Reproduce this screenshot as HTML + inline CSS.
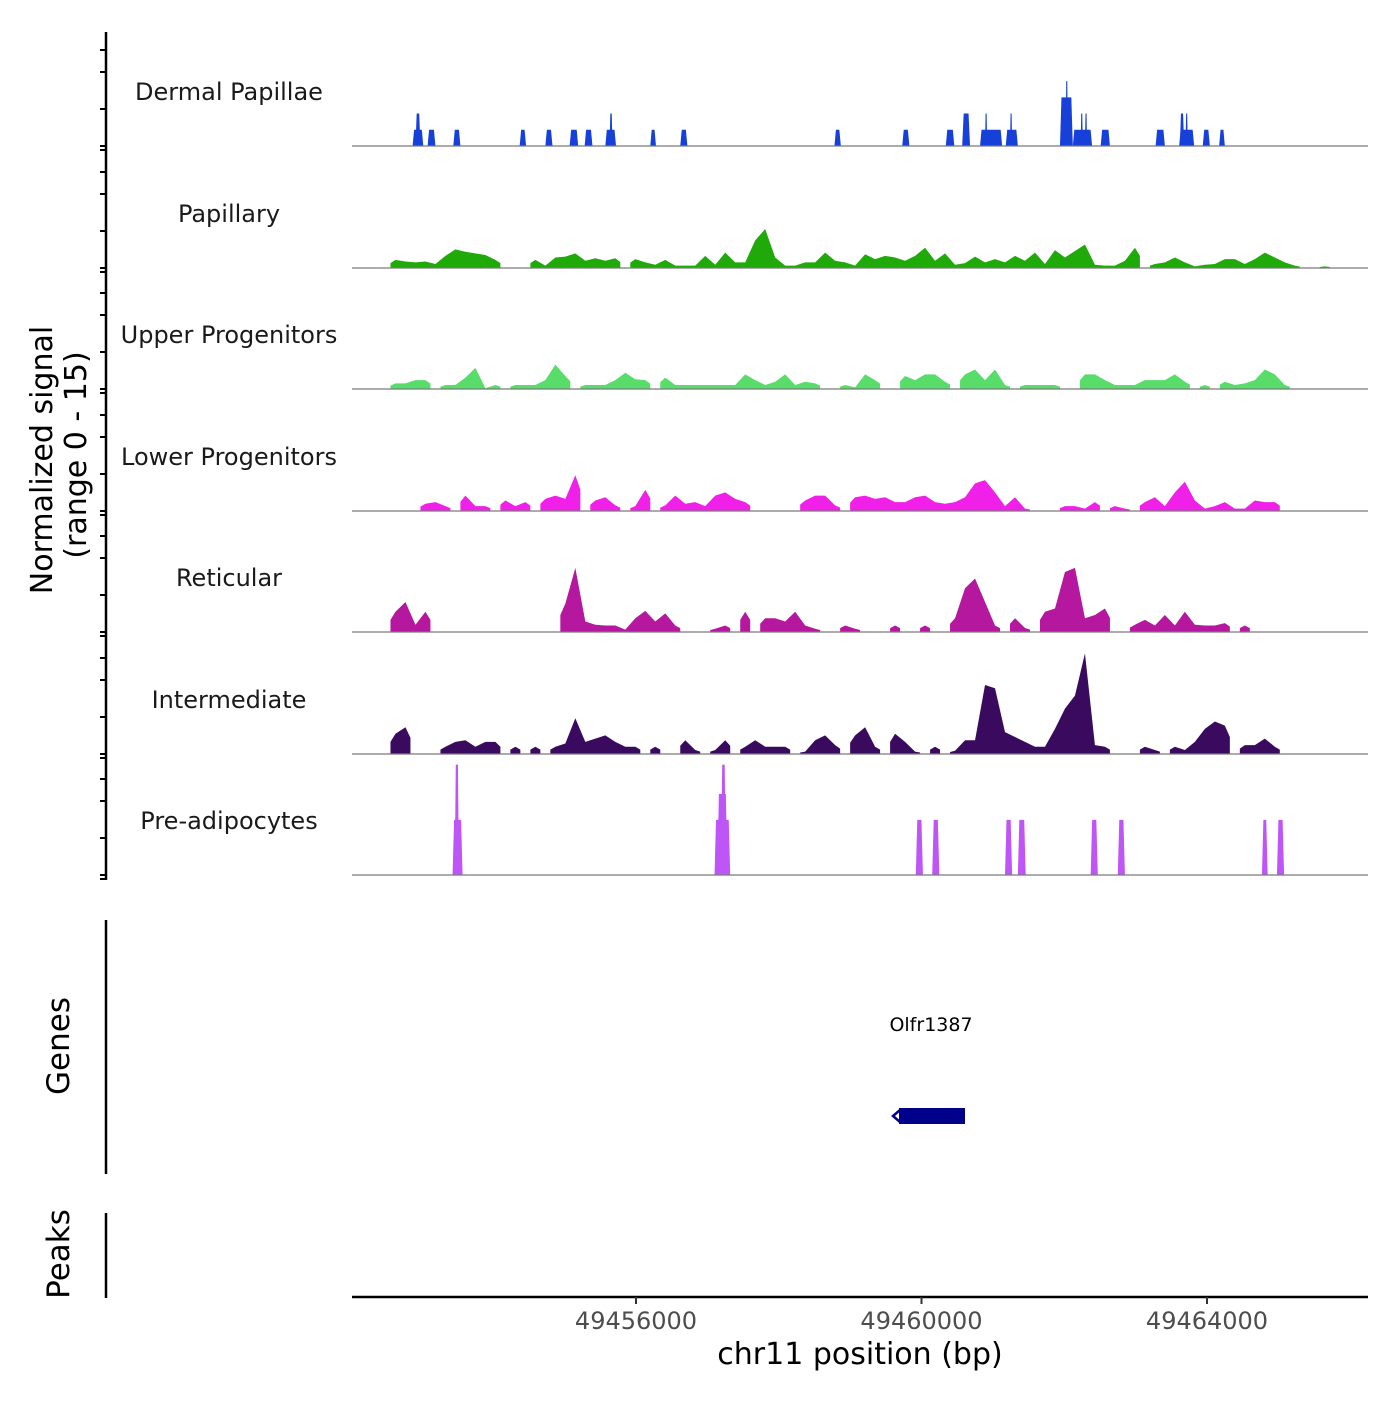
<!DOCTYPE html>
<html><head><meta charset="utf-8">
<style>
html,body{margin:0;padding:0;background:#fff;}
svg text{font-family:"DejaVu Sans","Liberation Sans",sans-serif;}
</style></head>
<body>
<svg id="chart" width="1400" height="1400" viewBox="0 0 1400 1400" xmlns="http://www.w3.org/2000/svg">
  <g id="axes"></g>
  <g id="tracks"></g>
  <text transform="translate(52,460) rotate(-90)" text-anchor="middle" font-size="30">Normalized signal</text>
  <text transform="translate(86,455) rotate(-90)" text-anchor="middle" font-size="30">(range 0 - 15)</text>
  <text transform="translate(69,1046) rotate(-90)" text-anchor="middle" font-size="31">Genes</text>
  <text transform="translate(69,1254) rotate(-90)" text-anchor="middle" font-size="31">Peaks</text>
  <line x1="106" y1="920" x2="106" y2="1174" stroke="#000" stroke-width="2.5"/>
  <line x1="106" y1="1213" x2="106" y2="1298" stroke="#000" stroke-width="2.5"/>
  <g>
    <text x="931" y="1031" text-anchor="middle" font-size="19">Olfr1387</text>
    <rect x="899" y="1108" width="66" height="16" fill="#00008B"/>
    <path d="M900 1110 L893 1116 L900 1122" stroke="#00008B" stroke-width="2.5" fill="none"/>
  </g>
  <text x="860" y="1364" text-anchor="middle" font-size="30">chr11 position (bp)</text>
</svg>
<script>
// positions in kb offset from chr11:49452000; heights in normalized signal (0-15)
const trackNames = ["Dermal Papillae","Papillary","Upper Progenitors","Lower Progenitors","Reticular","Intermediate","Pre-adipocytes"];
const trackColors = ["#1740D9","#20AA0A","#58DC6A","#F020E8","#B5179E","#3A0A5F","#BE55F6"];
const binSizeKb = 0.14;
// block tracks: [startKb, endKb, value]
const dermalBlocks = [[0.87,1.02,2],[0.91,0.98,4],[1.08,1.19,2],[1.44,1.54,2],[2.37,2.46,2],[2.73,2.83,2],[3.07,3.19,2],[3.28,3.39,2],[3.57,3.72,2],[3.63,3.67,4],[4.20,4.28,2],[4.62,4.72,2],[6.78,6.87,2],[7.73,7.83,2],[8.34,8.46,2],[8.57,8.68,4],[8.82,9.13,2],[8.89,8.92,4],[9.18,9.35,2],[9.24,9.27,4],[9.94,10.12,6],[10.02,10.05,8],[10.12,10.39,2],[10.23,10.26,4],[10.29,10.32,4],[10.51,10.64,2],[11.28,11.41,2],[11.61,11.82,2],[11.62,11.68,4],[11.70,11.73,4],[11.94,12.04,2],[12.17,12.25,2]];
const preadipoBlocks = [[1.43,1.57,6.8],[1.46,1.52,13.6],[5.10,5.32,6.8],[5.14,5.28,10],[5.19,5.26,13.6],[7.92,8.02,6.8],[8.15,8.25,6.8],[9.17,9.27,6.8],[9.35,9.46,6.8],[10.37,10.47,6.8],[10.75,10.85,6.8],[12.77,12.85,6.8],[12.98,13.08,6.8]];
// binned tracks (bin width 0.14 kb starting at 0)
const papillaryBins = [0,0,0,0,1.0,0.8,0.7,0.8,0.5,1.5,2.3,2.0,1.8,1.6,1.0,0,0,0,1.0,0.3,1.3,1.4,1.8,0.9,1.2,0.9,1.2,0,1.1,0.7,0.4,1.0,0.3,0.3,0.3,1.5,0.4,1.9,0.7,0.7,3.4,4.8,1.3,0.3,0.3,0.7,0.7,1.9,0.9,0.7,0.3,1.7,1.1,1.5,1.3,0.9,1.5,2.5,0.9,1.8,0.4,0.6,1.4,0.7,1.1,0.7,1.5,0.9,1.9,0.5,2.2,1.3,2.1,2.9,0.4,0.3,0.3,0.9,2.5,0,0.5,0.7,1.3,0.7,0.2,0.4,0.5,1.1,1.1,0.5,1.1,1.9,1.3,0.7,0.3,0,0,0.2,0,0,0,0];
const upperBins = [0,0,0,0,0.7,0.7,1.1,1.1,0,0.5,0.5,1.4,2.6,0.1,0.5,0,0.5,0.5,0.5,1.1,3.0,1.6,0,0.5,0.5,0.5,1.1,2.0,1.2,1.1,0,1.4,0.5,0.5,0.5,0.5,0.5,0.5,0.5,1.8,1.1,0.5,0.9,1.8,0.5,0.9,0.7,0,0,0.5,0.2,1.8,1.1,0,0,1.6,1.1,1.8,1.8,0.9,0,1.8,2.4,1.1,2.4,0.5,0,0.5,0.5,0.5,0.5,0,0,1.8,1.8,1.1,0.5,0.5,0.5,1.1,1.1,1.1,1.8,0.9,0,0.5,0,0.9,0.5,0.7,1.1,2.4,1.8,0.5,0,0,0,0,0,0,0,0];
const lowerBins = [0,0,0,0,0,0,0,0.9,1.1,0.6,0,1.9,0.6,0.6,0,1.3,0.6,1.1,0,1.5,1.9,1.5,4.4,0,1.3,1.7,0.7,0,0.6,2.6,0,0.7,1.9,0.9,1.1,0.6,1.9,2.3,1.5,1.1,0,0,0,0,0,1.3,1.9,1.9,0.7,0,1.7,1.9,1.5,1.7,1.1,1.1,1.7,1.9,1.1,0.9,1.1,1.7,3.4,3.8,2.3,0.6,1.7,0.3,0,0,0,0.6,0.6,0.3,1.1,0,0.6,0.3,0,1.1,1.7,0.6,2.3,3.6,1.3,0.3,0.6,1.1,0.3,0.3,1.3,1.1,1.1,0,0,0,0,0,0,0,0,0];
const reticularBins = [0,0,0,0,2.5,3.7,0.9,2.5,0,0,0,0,0,0,0,0,0,0,0,0,0,3.5,7.9,1.3,0.9,0.8,0.8,0.3,1.7,2.6,1.3,2.3,0.8,0,0,0,0.4,0.8,0,2.5,0,1.7,1.7,1.3,2.5,0.8,0.4,0,0,0.8,0.4,0,0,0,0.8,0,0,0.8,0,0,1.7,5.4,6.6,3.7,0.8,0,1.7,0.5,0,2.5,2.9,7.4,7.9,1.7,2.1,2.9,0,0,0.9,1.5,0.8,2.1,0.8,2.5,0.9,0.8,0.8,1.1,0,0.8,0,0,0,0,0,0,0,0,0,0,0,0];
const intermediateBins = [0,0,0,0,2.5,3.3,0,0,0,0.9,1.5,1.7,0.9,1.5,1.5,0,0.9,0,0.9,0,0.9,1.3,4.4,1.5,1.9,2.3,1.5,0.9,0.9,0,0.9,0,0,1.7,0.5,0,0.5,1.7,0,0.9,1.7,0.9,0.9,0.9,0,0.3,1.7,2.3,1.1,0,2.3,3.3,0.9,0,2.5,1.5,0.3,0,0.9,0,0.4,1.7,1.7,8.5,8.1,2.7,2.1,1.5,0.9,0.9,3.1,5.6,7.2,12.4,1.1,0.9,0,0,0,0.9,0.5,0,0.9,0.5,1.5,3.1,4.0,3.5,0,1.1,1.1,1.9,0.9,0,0,0,0,0,0,0,0,0];
const xTickValues = [49456000, 49460000, 49464000];
const xTickLabels = ["49456000","49460000","49464000"];

const regionStart = 49452000;
const plotX0 = 352, plotX1 = 1368;
function xScale(kb){ return 636 + (kb - 4) * 71.375; }
const panelH = 121.7, pxPerUnit = 121.7 / 15;
const baseY = [146, 268, 389, 511, 632, 754, 875];
function yScale(i, v){ return baseY[i] - v * pxPerUnit; }
const NS = "http://www.w3.org/2000/svg";
const tracksG = document.getElementById('tracks');
const axesG = document.getElementById('axes');

function mk(tag, attrs, parent){
  const el = document.createElementNS(NS, tag);
  for (const k in attrs) el.setAttribute(k, attrs[k]);
  parent.appendChild(el);
  return el;
}

// left axis
const yAxisLine = mk('line', {x1:106, y1:32, x2:106, y2:880, stroke:'#000', 'stroke-width':2.5}, axesG);


for (let i = 0; i < 7; i++){
  const offs = [4, 0, -37, -74, -96];
  for (let k = 0; k < offs.length; k++){
    const y = baseY[i] + offs[k];
    const t = mk('line', {x1:100, y1:y, x2:106, y2:y, stroke:'#000', 'stroke-width':2}, axesG);
    
    
  }
}

const binData = [null, papillaryBins, upperBins, lowerBins, reticularBins, intermediateBins, null];
const blockData = [dermalBlocks, null, null, null, null, null, preadipoBlocks];

for (let i = 0; i < 7; i++){
  const g = mk('g', {}, tracksG);
  
  
  const lbl = mk('text', {x:229, y:baseY[i]-46, 'text-anchor':'middle', 'font-size':24, fill:'#1a1a1a'}, g);
  lbl.textContent = trackNames[i];
  
  
  const by = baseY[i];
  if (blockData[i]){
    blockData[i].forEach(b => {
      const xa = xScale(b[0]), xb = xScale(b[1]), yt = yScale(i, b[2]);
      const r = Math.min(1.5, (xb - xa) / 4);
      const p = mk('path', {d:`M${xa} ${by} L${xa+r} ${yt} L${xb-r} ${yt} L${xb} ${by} Z`, fill:trackColors[i]}, g);
      
      
    });
  } else {
    const vals = binData[i];
    let d = '';
    let open = false;
    for (let j = 0; j < vals.length; j++){
      const v = vals[j];
      const xl = xScale(j * binSizeKb), xc = xScale((j + 0.5) * binSizeKb), xr = xScale((j + 1) * binSizeKb);
      if (v > 0){
        if (!open){ d += `M${xl} ${by} L${xl} ${yScale(i, v*0.6)} `; open = true; }
        d += `L${xc} ${yScale(i, v)} `;
        const nv = j + 1 < vals.length ? vals[j+1] : 0;
        if (!(nv > 0)){ d += `L${xr} ${yScale(i, v*0.6)} L${xr} ${by} Z `; open = false; }
      }
    }
    const p = mk('path', {d:d, fill:trackColors[i]}, g);
    
    
  }
  const base = mk('line', {x1:plotX0, y1:by, x2:plotX1, y2:by, stroke:'#7a7a7a', 'stroke-width':1.2}, g);
  
  
}

// x axis
const xAxis = mk('line', {x1:plotX0, y1:1297, x2:plotX1, y2:1297, stroke:'#000', 'stroke-width':2.5}, axesG);


xTickValues.forEach((v, k) => {
  const x = xScale((v - regionStart) / 1000);
  const t = mk('line', {x1:x, y1:1297, x2:x, y2:1304, stroke:'#333', 'stroke-width':2}, axesG);
  
  
  const lb = mk('text', {x:x, y:1329, 'text-anchor':'middle', 'font-size':24, fill:'#4d4d4d'}, axesG);
  lb.textContent = xTickLabels[k];
  
  
});
</script>
</body></html>
